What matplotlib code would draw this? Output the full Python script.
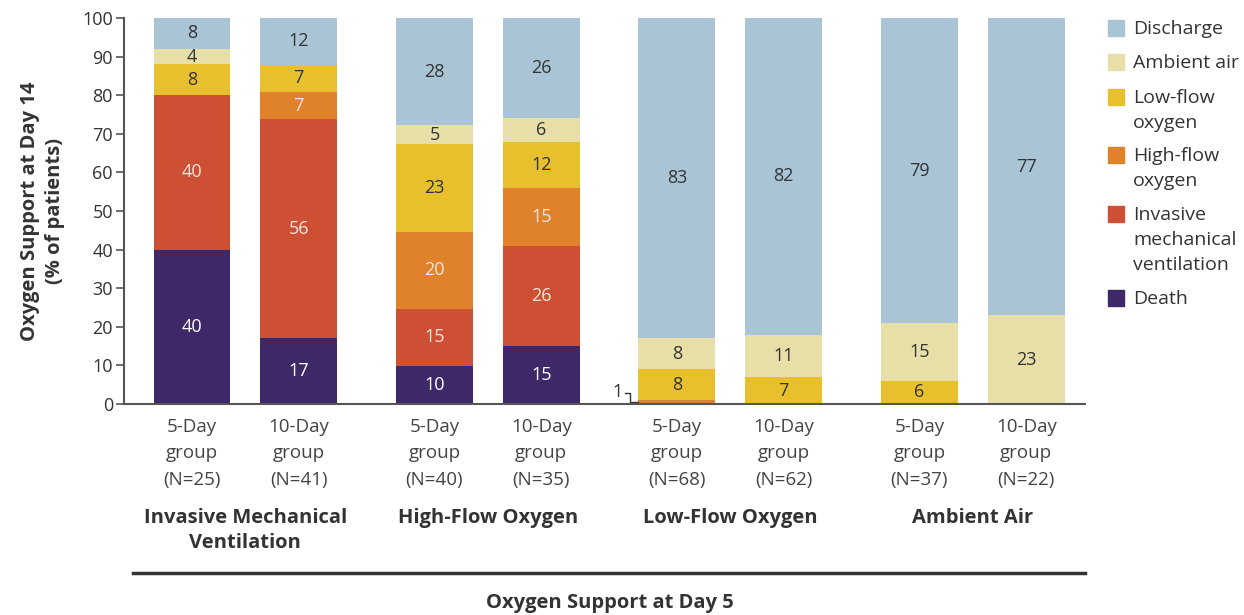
import matplotlib
matplotlib.use("Agg")
from matplotlib import pyplot as plt
from matplotlib.patches import Rectangle

plt.rcParams['font.family'] = ['Open Sans', 'DejaVu Sans']

# categories bottom -> top
categories = ['Death', 'Invasive mechanical ventilation', 'High-flow oxygen',
              'Low-flow oxygen', 'Ambient air', 'Discharge']
legend_labels = ['Death', 'Invasive\nmechanical\nventilation', 'High-flow\noxygen',
                 'Low-flow\noxygen', 'Ambient air', 'Discharge']
colors = ['#3f2868', '#cd4f34', '#e0812b', '#e8c02e', '#e8dea8', '#a9c4d4']
text_colors = ['white', '#fbe6dc', '#fbe6dc', '#333333', '#333333', '#333333']

bar_labels = ['5-Day\ngroup\n(N=25)', '10-Day\ngroup\n(N=41)',
              '5-Day\ngroup\n(N=40)', '10-Day\ngroup\n(N=35)',
              '5-Day\ngroup\n(N=68)', '10-Day\ngroup\n(N=62)',
              '5-Day\ngroup\n(N=37)', '10-Day\ngroup\n(N=22)']
groups = ['Invasive Mechanical\nVentilation', 'High-Flow Oxygen',
          'Low-Flow Oxygen', 'Ambient Air']

death     = [40, 17, 10, 15, 0, 0, 0, 0]
invasive  = [40, 56, 15, 26, 0, 0, 0, 0]
highflow  = [0, 7, 20, 15, 1, 0, 0, 0]
lowflow   = [8, 7, 23, 12, 8, 7, 6, 0]
ambient   = [4, 0, 5, 6, 8, 11, 15, 23]
discharge = [8, 12, 28, 26, 83, 82, 79, 77]
series = [death, invasive, highflow, lowflow, ambient, discharge]

# rounded labels don't always add to 100; scale bars so each fills the column
totals = [sum(col) for col in zip(*series)]

pos = [g * 2.27 + i for g in range(4) for i in range(2)]
width = 0.72

fig = plt.figure(figsize=(12.44, 6.15), dpi=100)
ax = fig.add_axes([0.0997, 0.343, 0.7725, 0.6277])

bottom = [0] * 8
for k, vals in enumerate(series):
    h = [v * 100 / t for v, t in zip(vals, totals)]
    ax.bar(pos, h, width, bottom=bottom, color=colors[k], linewidth=0, zorder=2)
    for j, v in enumerate(vals):
        if v > 0 and not (k == 2 and j == 4):
            ax.text(pos[j], bottom[j] + h[j] / 2, str(v), ha='center', va='center',
                    fontsize=13, color=text_colors[k], zorder=3)
    bottom = [b + x for b, x in zip(bottom, h)]

# small "1" callout for low-flow 5-day high-flow segment
ax.text(pos[4] - 0.56, 3.0, str(highflow[4]), ha='center', va='center',
        fontsize=13, color='#333333')
ax.plot([pos[4] - 0.49, pos[4] - 0.44, pos[4] - 0.44, pos[4] - 0.36],
        [2.9, 2.9, 0.6, 0.6], color='#333333', lw=1, clip_on=False)

ax.set_xlim(-0.636, pos[-1] + 0.55)
ax.set_ylim(0, 100)
ax.set_yticks(range(0, 101, 10))
ax.tick_params(axis='y', labelsize=13, length=6, width=1.2, color='#555555',
               labelcolor='#333333', pad=2)
ax.set_xticks(pos)
ax.set_xticklabels(bar_labels, fontsize=13.5, color='#444444', linespacing=1.6)
ax.tick_params(axis='x', length=0, pad=10)

for s in ['top', 'right']:
    ax.spines[s].set_visible(False)
ax.spines['left'].set_color('#555555')
ax.spines['bottom'].set_color('#555555')
ax.spines['left'].set_linewidth(1.5)
ax.spines['bottom'].set_linewidth(1.5)

ax.set_ylabel('Oxygen Support at Day 14\n(% of patients)', fontsize=14.5,
              fontweight='bold', color='#333333', labelpad=12, linespacing=1.35)

# group labels
for g, name in enumerate(groups):
    xc = (pos[2 * g] + pos[2 * g + 1]) / 2
    ax.text(xc, -26.8, name, ha='center', va='top', fontsize=14.5, fontweight='bold',
            color='#333333', linespacing=1.38, clip_on=False)

# bottom rule and x title
fig.add_artist(plt.Line2D([133 / 1244, 1085 / 1244], [1 - 573 / 615, 1 - 573 / 615],
                          color='#333333', lw=2.5))
fig.text(610 / 1244, 1 - 603 / 615, 'Oxygen Support at Day 5', ha='center', va='center',
         fontsize=14.5, fontweight='bold', color='#333333')

# legend
leg_y = [298, 214, 155, 97, 62, 28]
for k in range(len(categories)):
    yc = 1 - leg_y[k] / 615
    fig.add_artist(Rectangle((1108 / 1244, yc - 8 / 615), 16 / 1244, 16 / 615,
                             color=colors[k], transform=fig.transFigure))
    fig.text(1133 / 1244, yc + 8 / 615, legend_labels[k], ha='left', va='top',
             fontsize=14, color='#333333', linespacing=1.5)

fig.savefig('out.png', dpi=100)
